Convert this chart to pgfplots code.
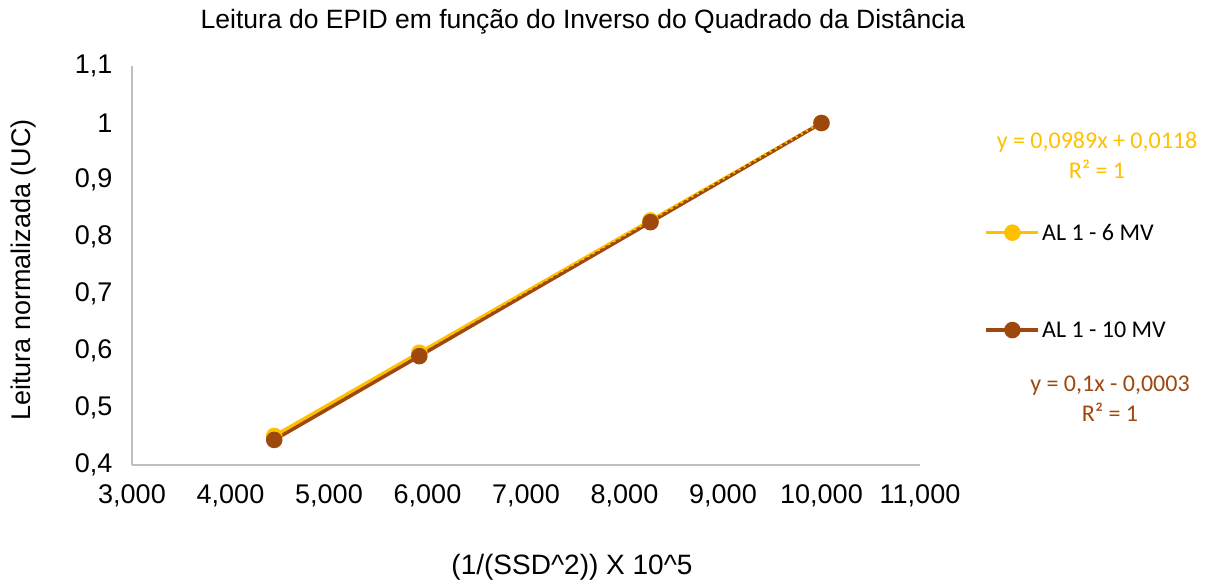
\documentclass[border=0pt]{standalone}
\usepackage{fontspec}
\setmainfont{Liberation Sans}
\newfontfamily\calibri{Carlito}
\usepackage{pgfplots}
\pgfplotsset{compat=1.18}
\definecolor{gold}{HTML}{FFC000}
\definecolor{rust}{HTML}{9E480E}
\definecolor{axgray}{HTML}{BFBFBF}

\begin{document}
\begin{tikzpicture}[x=1pt,y=1pt]
  \useasboundingbox (0,0) rectangle (1210,584);
  \begin{axis}[
      at={(132pt,119pt)}, anchor=south west,
      scale only axis, width=788pt, height=399pt,
      xmin=3, xmax=11, ymin=0.4, ymax=1.1,
      xtick={3,4,...,11}, ytick={0.4,0.5,...,1.1},
      axis lines=left, axis line style={axgray, line width=1.5pt, -},
      major tick length=0pt,
      tick label style={font=\fontsize{27}{32}\selectfont, black},
      /pgf/number format/assume math mode=true,
      xticklabel style={/pgf/number format/fixed, /pgf/number format/fixed zerofill,
        /pgf/number format/precision=3, /pgf/number format/use comma,
        /pgf/number format/1000 sep={}, yshift=-16pt},
      yticklabel style={/pgf/number format/fixed, /pgf/number format/precision=1,
        /pgf/number format/use comma, xshift=-16pt},
      clip=false,
      legend style={at={(1.078,0.615)}, anchor=north west, draw=none, fill=none,
        font=\calibri\fontsize{24}{29}\selectfont, row sep=76pt},
      legend cell align=left,
      legend image code/.code={\draw[mark repeat=2, mark phase=2, #1] plot coordinates {(0pt,0pt) (26pt,0pt) (52pt,0pt)};},
    ]
    \addplot[gold, line width=3.5pt, mark=*, mark size=6.5pt, mark options={fill=gold, draw=gold}]
      coordinates {(4.444,0.451) (5.917,0.597) (8.264,0.829) (10.000,1.000)};
    \addlegendentry{AL 1 - 6 MV}
    \addplot[rust, line width=3.5pt, mark=*, mark size=6.5pt, mark options={fill=rust, draw=rust}]
      coordinates {(4.444,0.444) (5.917,0.591) (8.264,0.826) (10.000,1.000)};
    \addlegendentry{AL 1 - 10 MV}
    \addplot[gold, line width=2pt, dash pattern=on 3pt off 3pt, forget plot]
      coordinates {(4.444,0.4513) (10.000,1.0008)};
    \addplot[rust, line width=2pt, dash pattern=on 3pt off 3pt, forget plot]
      coordinates {(4.444,0.4441) (10.000,0.9997)};
  \end{axis}
  \node[font=\fontsize{26.5}{31}\selectfont] at (583,562) {Leitura do EPID em função do Inverso do Quadrado da Distância};
  \node[font=\fontsize{27}{32}\selectfont, rotate=90] at (24,314) {Leitura normalizada (UC)};
  \node[font=\fontsize{28}{33}\selectfont] at (572,17) {(1/(SSD\textasciicircum 2)) X 10\textasciicircum 5};
  \node[font=\calibri\fontsize{24}{29}\selectfont, text=gold, align=center] at (1097,429) {y = 0,0989x + 0,0118\\[1pt]R² = 1};
  \node[font=\calibri\fontsize{24}{29}\selectfont, text=rust, align=center] at (1110,185) {y = 0,1x - 0,0003\\[1pt]R² = 1};
\end{tikzpicture}
\end{document}
